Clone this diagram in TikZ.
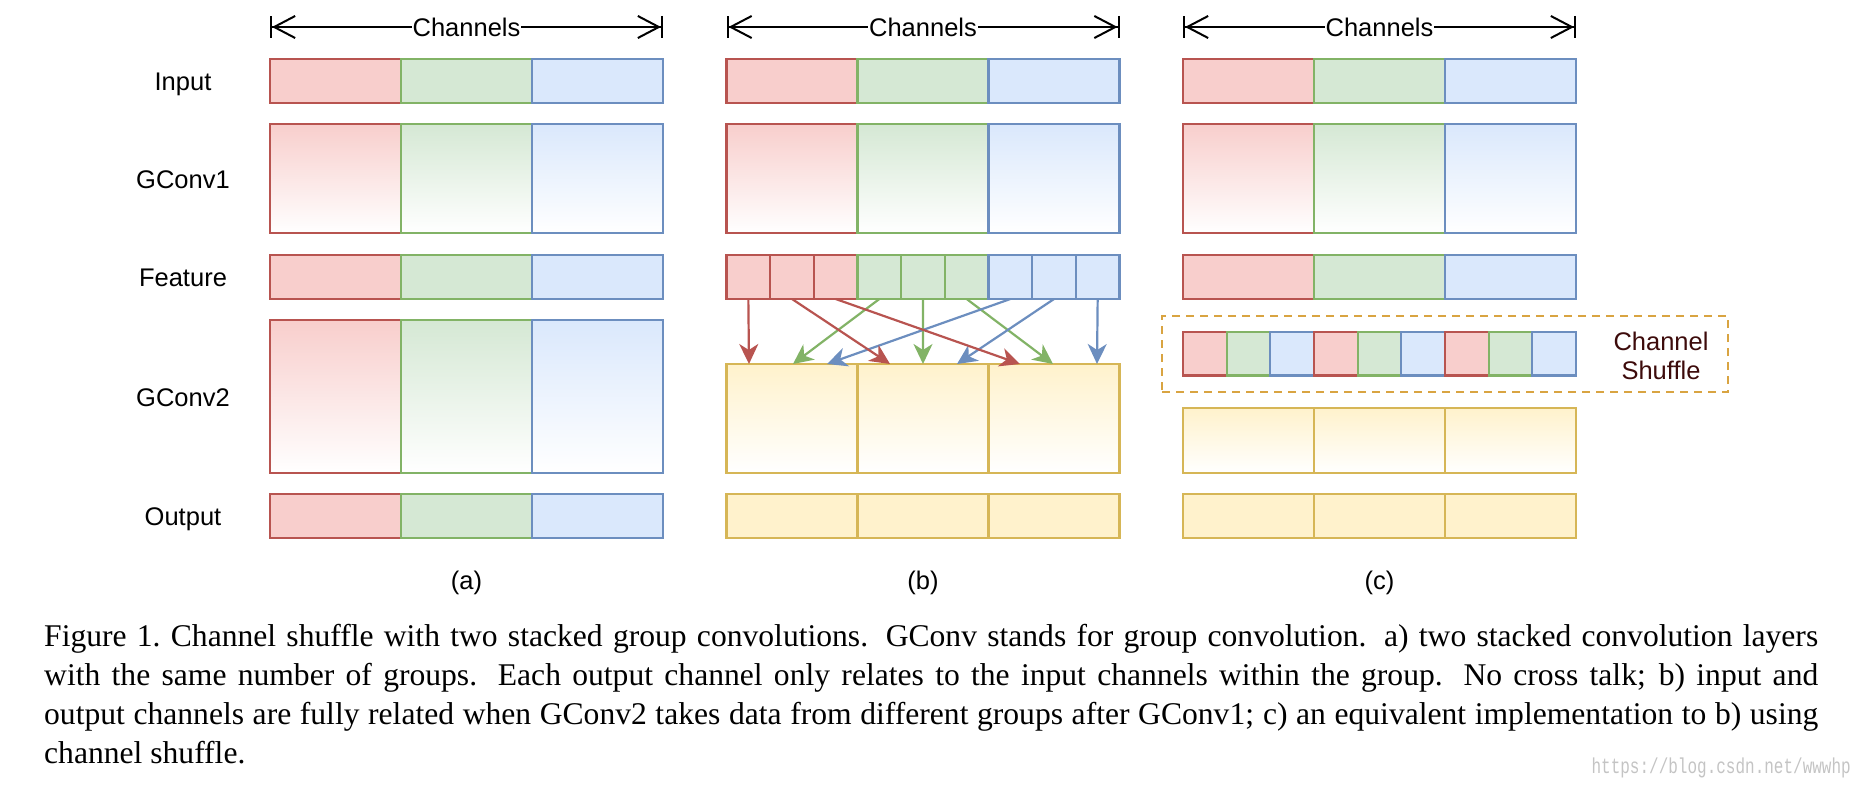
\documentclass[tikz,border=0pt]{standalone}
\usepackage{fontspec}
\setmainfont{Liberation Serif}
\newfontfamily\hel{Liberation Sans}
\newfontfamily\mono{Liberation Mono}
\usetikzlibrary{arrows.meta}
\definecolor{rf}{HTML}{F8CECC}\definecolor{rs}{HTML}{B85450}
\definecolor{gf}{HTML}{D5E8D4}\definecolor{gs}{HTML}{82B366}
\definecolor{bf}{HTML}{DAE8FC}\definecolor{bs}{HTML}{6C8EBF}
\definecolor{yf}{HTML}{FFF2CC}\definecolor{ys}{HTML}{D6B656}
\definecolor{dashcol}{HTML}{D9A441}
\definecolor{txtbrown}{HTML}{3D0B0B}
\definecolor{wmark}{HTML}{C4C4C4}
\begin{document}
\begin{tikzpicture}[x=1pt,y=-1pt,
  cellbox/.style={draw, line width=2.2pt, inner sep=0pt, outer sep=0pt, anchor=north west},
  lbl/.style={font=\hel\fontsize{25.5}{30}\selectfont, text=black, anchor=base, inner sep=0pt},
  chan/.style={line width=2pt, black,
    {Bar[width=22pt,line width=2pt]Straight Barb[length=21pt,width=22pt,line width=2pt]}-{Straight Barb[length=21pt,width=22pt,line width=2pt]Bar[width=22pt,line width=2pt]}},
  chantext/.style={font=\hel\fontsize{25.5}{30}\selectfont, fill=white, inner sep=1pt},
  flow/.style={line width=2.2pt, -{Stealth[length=20pt,width=19pt,inset=6pt]}},
  shuf/.style={draw=dashcol, line width=2.5pt, dash pattern=on 8pt off 6pt, inner sep=0pt, outer sep=0pt, anchor=north west}
]
\useasboundingbox (0,0) rectangle (1864,792);

% ---------- row labels ----------
\node[lbl] (l-in) at (183,90) {Input};
\node[lbl] (l-g1) at (183,188) {GConv1};
\node[lbl] (l-ft) at (183,286) {Feature};
\node[lbl] (l-g2) at (183,406) {GConv2};
\node[lbl] (l-out) at (183,525) {Output};

% ---------- panel (a) x=270 ----------
\foreach \i/\f/\s in {0/rf/rs,1/gf/gs,2/bf/bs}{
  \node[cellbox, fill=\f, draw=\s, minimum width=131pt, minimum height=44pt] (a-in-\i) at (270+131*\i,59) {};
  \node[cellbox, top color=\f, bottom color=white, draw=\s, minimum width=131pt, minimum height=109pt] (a-g1-\i) at (270+131*\i,124) {};
  \node[cellbox, fill=\f, draw=\s, minimum width=131pt, minimum height=44pt] (a-ft-\i) at (270+131*\i,255) {};
  \node[cellbox, top color=\f, bottom color=white, draw=\s, minimum width=131pt, minimum height=153pt] (a-g2-\i) at (270+131*\i,320) {};
  \node[cellbox, fill=\f, draw=\s, minimum width=131pt, minimum height=44pt] (a-out-\i) at (270+131*\i,494) {};
}
% ---------- panel (b) x=726.5 ----------
\foreach \i/\f/\s in {0/rf/rs,1/gf/gs,2/bf/bs}{
  \node[cellbox, fill=\f, draw=\s, minimum width=131pt, minimum height=44pt] (b-in-\i) at (726.5+131*\i,59) {};
  \node[cellbox, top color=\f, bottom color=white, draw=\s, minimum width=131pt, minimum height=109pt] (b-g1-\i) at (726.5+131*\i,124) {};
}
\foreach \i/\f/\s in {1/rf/rs,2/rf/rs,3/rf/rs,4/gf/gs,5/gf/gs,6/gf/gs,7/bf/bs,8/bf/bs,9/bf/bs}{
  \node[cellbox, fill=\f, draw=\s, minimum width=43.667pt, minimum height=44pt] (b-f\i) at (726.5+43.667*\i-43.667,255) {};
}
\foreach \i in {0,1,2}{
  \node[cellbox, top color=yf, bottom color=white, draw=ys, minimum width=131pt, minimum height=109pt] (b-g2-\i) at (726.5+131*\i,364) {};
  \node[cellbox, fill=yf, draw=ys, minimum width=131pt, minimum height=44pt] (b-out-\i) at (726.5+131*\i,494) {};
}
% arrow targets on top of GConv2 (b)
\coordinate (t1) at (749,364);
\coordinate (t2) at (890,364);
\coordinate (t3) at (1020,364);
\coordinate (t4) at (793,364);
\coordinate (t5) at (923,364);
\coordinate (t6) at (1053,364);
\coordinate (t7) at (827,364);
\coordinate (t8) at (957,364);
\coordinate (t9) at (1097,364);
\draw[flow, gs] (b-f4.south) -- (t4);
\draw[flow, gs] (b-f5.south) -- (t5);
\draw[flow, gs] (b-f6.south) -- (t6);
\draw[flow, bs] (b-f7.south) -- (t7);
\draw[flow, bs] (b-f8.south) -- (t8);
\draw[flow, bs] (b-f9.south) -- (t9);
\draw[flow, rs] (b-f1.south) -- (t1);
\draw[flow, rs] (b-f2.south) -- (t2);
\draw[flow, rs] (b-f3.south) -- (t3);

% ---------- panel (c) x=1183 ----------
\foreach \i/\f/\s in {0/rf/rs,1/gf/gs,2/bf/bs}{
  \node[cellbox, fill=\f, draw=\s, minimum width=131pt, minimum height=44pt] (c-in-\i) at (1183+131*\i,59) {};
  \node[cellbox, top color=\f, bottom color=white, draw=\s, minimum width=131pt, minimum height=109pt] (c-g1-\i) at (1183+131*\i,124) {};
  \node[cellbox, fill=\f, draw=\s, minimum width=131pt, minimum height=44pt] (c-ft-\i) at (1183+131*\i,255) {};
}
\node[shuf, minimum width=566pt, minimum height=76pt] (c-shbox) at (1162,316) {};
\foreach \i/\f/\s in {1/rf/rs,2/gf/gs,3/bf/bs,4/rf/rs,5/gf/gs,6/bf/bs,7/rf/rs,8/gf/gs,9/bf/bs}{
  \node[cellbox, fill=\f, draw=\s, minimum width=43.667pt, minimum height=43.5pt] (c-s\i) at (1183+43.667*\i-43.667,332) {};
}
\node[font=\hel\fontsize{25.5}{29}\selectfont, text=txtbrown, align=center, inner sep=0pt] (c-shtext) at (1661,355.5) {Channel\\Shuffle};
\foreach \i in {0,1,2}{
  \node[cellbox, top color=yf, bottom color=white, draw=ys, minimum width=131pt, minimum height=65pt] (c-g2-\i) at (1183+131*\i,408) {};
  \node[cellbox, fill=yf, draw=ys, minimum width=131pt, minimum height=44pt] (c-out-\i) at (1183+131*\i,494) {};
}

% ---------- Channels arrows ----------
\coordinate (a-l) at (270,27); \coordinate (a-r) at (663,27);
\coordinate (b-l) at (726.5,27); \coordinate (b-r) at (1119.5,27);
\coordinate (c-l) at (1183,27); \coordinate (c-r) at (1576,27);
\draw[chan] (a-l) -- (a-r) node[midway, chantext] (a-ch) {Channels};
\draw[chan] (b-l) -- (b-r) node[midway, chantext] (b-ch) {Channels};
\draw[chan] (c-l) -- (c-r) node[midway, chantext] (c-ch) {Channels};

% ---------- sub-captions ----------
\node[lbl] (cap-a) at (466.5,589) {(a)};
\node[lbl] (cap-b) at (923,589) {(b)};
\node[lbl] (cap-c) at (1379.5,589) {(c)};

% ---------- caption ----------
\node[anchor=base west, inner sep=0pt] (caption) at (44,646) {\parbox[t]{1774pt}{\fontsize{31.6}{39.2}\selectfont
Figure 1.\ Channel shuffle with two stacked group convolutions. GConv stands for group convolution. a) two stacked convolution layers\linebreak
with the same number of groups. Each output channel only relates to the input channels within the group. No cross talk; b) input and\linebreak
output channels are fully related when GConv2 takes data from different groups after GConv1; c) an equivalent implementation to b) using\linebreak
channel shuffle.}};

\node[anchor=base east, inner sep=0pt, text=wmark, font=\mono\fontsize{16}{16}\selectfont, yscale=1.35] (wm) at (1851,773) {https://blog.csdn.net/wwwhp};
\end{tikzpicture}
\end{document}
